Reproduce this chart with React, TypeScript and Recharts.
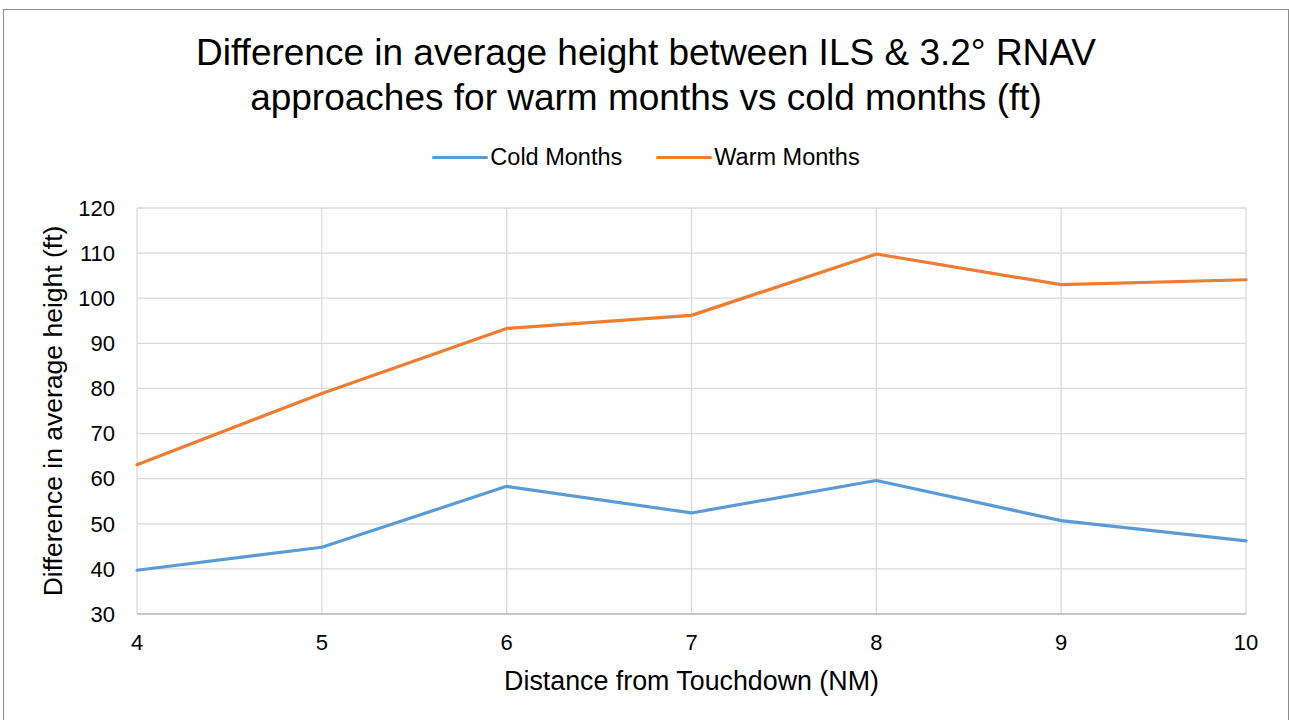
import { LineChart, Line, XAxis, YAxis, CartesianGrid } from "recharts";

// distance from touchdown (NM)
const distances = [4, 5, 6, 7, 8, 9, 10];
// difference in average height (ft)
const coldMonths = [39.7, 44.8, 58.3, 52.4, 59.6, 50.7, 46.2];
const warmMonths = [63.1, 78.9, 93.3, 96.2, 109.8, 103.0, 104.1];
const yTicks = [30, 40, 50, 60, 70, 80, 90, 100, 110, 120];

const COLD = "#5B9BD5";
const WARM = "#ED7D31";
const FONT = "'Liberation Sans', Arial, sans-serif";

const data = distances.map((d, i) => ({
  dist: d,
  cold: coldMonths[i],
  warm: warmMonths[i],
}));

const series = [
  { key: "cold", name: "Cold Months", color: COLD },
  { key: "warm", name: "Warm Months", color: WARM },
];

export default function App() {
  return (
    <div
      style={{
        position: "absolute",
        left: 3,
        top: 9,
        width: 1284,
        height: 710,
        border: "1px solid #8c8c8c",
        background: "#fff",
        fontFamily: FONT,
        color: "#000",
      }}
    >
      {/* title */}
      <div
        style={{
          position: "absolute",
          left: 0,
          right: 0,
          top: 20,
          textAlign: "center",
          fontSize: 37,
          lineHeight: "45px",
        }}
      >
        Difference in average height between ILS &amp; 3.2° RNAV
        <br />
        approaches for warm months vs cold months (ft)
      </div>

      {/* legend */}
      <div
        style={{
          position: "absolute",
          left: 0,
          right: 0,
          top: 133,
          display: "flex",
          justifyContent: "center",
          alignItems: "center",
          fontSize: 23.5,
          lineHeight: "28px",
          gap: 34,
        }}
      >
        {series.map((s) => (
          <div key={s.key} style={{ display: "flex", alignItems: "center" }}>
            <span
              style={{
                display: "inline-block",
                width: 56,
                height: 3,
                background: s.color,
                marginRight: 2,
                borderRadius: 2,
              }}
            />
            {s.name}
          </div>
        ))}
      </div>

      <LineChart
        width={1284}
        height={710}
        data={data}
        margin={{ top: 198, right: 42, left: 0, bottom: 26 }}
        style={{ position: "absolute", left: 0, top: 0 }}
      >
        <CartesianGrid stroke="#d9d9d9" strokeWidth={1.3} />
        <XAxis
          dataKey="dist"
          height={80}
          tickSize={0}
          tickMargin={20}
          axisLine={{ stroke: "#bfbfbf", strokeWidth: 1.3 }}
          tick={{ fontSize: 22, fill: "#000", fontFamily: FONT }}
          label={{
            value: "Distance from Touchdown (NM)",
            position: "insideBottom",
            offset: 4,
            style: { fontSize: 26.8, fill: "#000", fontFamily: FONT },
          }}
        />
        <YAxis
          width={133}
          domain={[30, 120]}
          ticks={yTicks}
          interval={0}
          tickSize={0}
          tickMargin={22}
          axisLine={false}
          tick={{ fontSize: 22, fill: "#000", fontFamily: FONT }}
          label={{
            value: "Difference in average height (ft)",
            angle: -90,
            position: "insideLeft",
            offset: 49,
            style: { fontSize: 26.5, fill: "#000", fontFamily: FONT, textAnchor: "middle" },
          }}
        />
        {series.map((s) => (
          <Line
            key={s.key}
            type="linear"
            dataKey={s.key}
            name={s.name}
            stroke={s.color}
            strokeWidth={3.2}
            strokeLinejoin="round"
            strokeLinecap="round"
            dot={false}
            activeDot={false}
            isAnimationActive={false}
          />
        ))}
      </LineChart>
    </div>
  );
}
